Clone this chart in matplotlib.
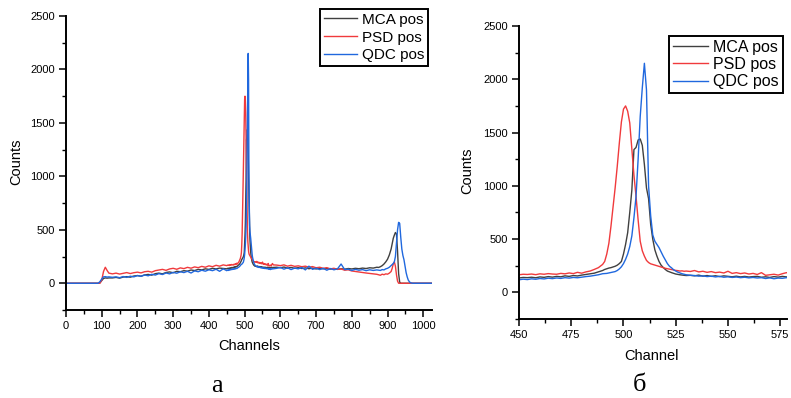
import matplotlib
matplotlib.use("Agg")
import matplotlib.pyplot as plt
from matplotlib.ticker import MultipleLocator

plt.rcParams['font.family'] = ['Liberation Sans', 'DejaVu Sans']

channels = [
    0, 90, 95, 100, 105, 110, 115, 120,
    130, 140, 150, 160, 170, 180, 190, 200, 210, 220,
    230, 240, 250, 260, 270, 280, 290, 300, 310, 320,
    330, 340, 350, 360, 370, 380, 390, 400, 410, 420,
    430, 440,
    450, 452, 454, 456, 458, 460, 462, 464, 466, 468,
    470, 472, 474, 476, 478, 480, 482, 484, 486, 488,
    490,
    491, 492, 493, 494, 495, 496, 497, 498, 499, 500,
    501, 502, 503, 504, 505, 506, 507, 508, 509, 510,
    511, 512, 513, 514, 515, 516, 517, 518, 519, 520,
    521, 522, 523, 524, 525, 526, 527, 528, 529,
    530, 532, 534, 536, 538, 540, 542, 544, 546, 548,
    550, 552, 554, 556, 558, 560, 562, 564, 566, 568,
    570, 572, 574, 576, 578, 580,
    590, 600, 610, 620, 630, 640, 650, 660, 670, 680,
    690, 700, 710, 720, 730, 740, 750, 760, 770, 780,
    790, 800, 810, 820, 830, 840, 850, 860, 870,
    875, 880, 885, 890, 895, 900, 905, 910, 913, 916,
    919, 922, 925, 928, 931, 934, 937, 940, 943, 946,
    949, 952, 955, 958, 961, 964, 970, 980, 1000, 1023,
]

mca_pos = [
    0, 0, 5, 25, 45, 50, 48, 50,
    50, 55, 48, 58, 62, 57, 68, 72, 66, 78,
    83, 76, 90, 95, 88, 101, 106, 98, 112, 108,
    118, 113, 124, 119, 130, 125, 135, 130, 140, 134,
    142, 138,
    135, 140, 138, 142, 137, 145, 141, 148, 143, 150,
    146, 155, 150, 158, 154, 162, 168, 175, 180, 192,
    205,
    215, 222, 228, 232, 238, 245, 255, 270, 290, 360,
    450, 560, 750, 960, 1340, 1360, 1430, 1440, 1380, 1200,
    980, 880, 640, 500, 400, 340, 290, 255, 234, 215,
    200, 192, 185, 178, 172, 168, 165, 162, 160,
    158, 160, 155, 162, 152, 158, 150, 156, 148, 155,
    150, 146, 152, 145, 150, 144, 148, 150, 142, 146,
    140, 148, 143, 150, 145, 148,
    150, 145, 152, 142, 148, 140, 146, 138, 144, 136,
    142, 134, 140, 135, 138, 132, 137, 130, 136, 132,
    138, 134, 140, 136, 142, 138, 145, 142, 150,
    148, 155, 165, 180, 200, 225, 265, 320, 370, 420,
    450, 475, 460, 300, 90, 10, 0, 0, 0, 0,
    0, 0, 0, 0, 0, 0, 0, 0, 0, 0,
]

psd_pos = [
    0, 0, 0, 30, 110, 150, 120, 95,
    88, 95, 86, 93, 100, 91, 99, 104, 97, 108,
    112, 104, 118, 124, 130, 121, 134, 140, 131, 144,
    137, 149, 141, 153, 146, 158, 150, 163, 155, 168,
    160, 172,
    165, 170, 168, 172, 166, 174, 170, 176, 172, 170,
    178, 174, 182, 176, 188, 180, 192, 200, 215, 232,
    262,
    290, 360, 460, 620, 800, 980, 1180, 1400, 1600, 1720,
    1750, 1700, 1590, 1350, 1100, 900, 680, 480, 390, 340,
    300, 280, 268, 262, 255, 250, 244, 238, 232, 226,
    222, 218, 214, 210, 206, 204, 200, 202, 198,
    200, 196, 205, 192, 198, 188, 195, 185, 190, 182,
    198, 178, 185, 176, 182, 172, 178, 168, 185, 160,
    165, 170, 162, 175, 185, 172,
    170, 165, 172, 160, 168, 158, 163, 155, 160, 150,
    156, 145, 150, 140, 146, 135, 140, 130, 134, 122,
    126, 115, 110, 106, 100, 96, 92, 88, 84,
    80, 75, 85, 80, 88, 85, 95, 110, 140, 180,
    200, 160, 80, 20, 0, 0, 0, 0, 0, 0,
    0, 0, 0, 0, 0, 0, 0, 0, 0, 0,
]

qdc_pos = [
    0, 0, 15, 40, 60, 62, 58, 60,
    56, 60, 52, 63, 55, 66, 60, 72, 65, 78,
    70, 84, 77, 90, 82, 96, 88, 102, 94, 108,
    100, 112, 96, 116, 108, 122, 113, 126, 118, 131,
    112, 135,
    118, 124, 120, 127, 123, 130, 126, 133, 129, 135,
    131, 138, 134, 140, 137, 143, 148, 152, 158, 165,
    175,
    176, 178, 182, 185, 190, 195, 205, 220, 240, 270,
    310, 360, 430, 530, 700, 900, 1250, 1650, 1920, 2150,
    1900, 1000, 720, 540, 480, 450, 420, 380, 340, 305,
    270, 245, 230, 212, 200, 190, 182, 175, 170,
    165, 160, 158, 152, 155, 148, 152, 145, 150, 142,
    146, 140, 144, 138, 142, 136, 140, 135, 138, 130,
    136, 128, 134, 132, 138, 135,
    140, 148, 132, 145, 128, 142, 135, 148, 125, 160,
    130, 142, 128, 140, 122, 138, 126, 135, 180, 128,
    132, 120, 130, 122, 128, 118, 126, 120, 125,
    122, 120, 128, 125, 135, 140, 150, 165, 175, 185,
    200, 250, 380, 500, 570, 560, 430, 320, 260, 220,
    160, 100, 60, 30, 15, 5, 0, 0, 0, 0,
]

assert len(channels) == len(mca_pos) == len(psd_pos) == len(qdc_pos)

series_labels = ["MCA pos", "PSD pos", "QDC pos"]
series_data = [mca_pos, psd_pos, qdc_pos]
series_colors = ["#404040", "#F03A3C", "#2068DE"]

W, H = 791, 398
fig = plt.figure(figsize=(W / 100, H / 100), dpi=100)

def px_axes(x0, y0, x1, y1):
    return fig.add_axes([x0 / W, 1 - y1 / H, (x1 - x0) / W, (y1 - y0) / H])

ax1 = px_axes(66, 16, 432.2, 310)
ax2 = px_axes(519, 26, 786.5, 319)

def style(ax, xlim, xmaj, xmin, xlabel, xlab_pos, ylab_pos, leg_anchor,
          leg_fs, leg_sp):
    for lab, d, c in zip(series_labels, series_data, series_colors):
        ax.plot(channels, d, color=c, lw=1.0, label=lab)
    ax.set_xlim(*xlim)
    ax.set_ylim(-250, 2500)
    ax.xaxis.set_major_locator(MultipleLocator(xmaj))
    ax.xaxis.set_minor_locator(MultipleLocator(xmin))
    ax.yaxis.set_major_locator(MultipleLocator(500))
    ax.yaxis.set_minor_locator(MultipleLocator(250))
    for s in ("top", "right"):
        ax.spines[s].set_visible(False)
    for s in ("left", "bottom"):
        ax.spines[s].set_linewidth(1.4)
    ax.tick_params(which="major", direction="out", length=5, width=1.1,
                   labelsize=8, pad=3)
    ax.tick_params(which="minor", direction="out", length=3, width=1.0)
    ax.set_xlabel(xlabel, fontsize=10.5)
    ax.set_ylabel("Counts", fontsize=10.5)
    ax.xaxis.set_label_coords(*xlab_pos)
    ax.yaxis.set_label_coords(*ylab_pos)
    ax.xaxis.label.set_va("center")
    ax.yaxis.label.set_va("center")
    leg = ax.legend(loc="upper left", bbox_to_anchor=leg_anchor,
                    bbox_transform=fig.transFigure, fontsize=leg_fs,
                    frameon=True, fancybox=False, borderpad=0.25,
                    labelspacing=leg_sp, handlelength=2.2, handletextpad=0.3,
                    borderaxespad=0)
    fr = leg.get_frame()
    fr.set_edgecolor("black")
    fr.set_linewidth(1.4)
    fr.set_alpha(1)

style(ax1, (0, 1025), 100, 50, "Channels",
      (0.5006, -0.121), (-0.1365, 0.505), (320 / W, 1 - 9 / H), 11, 0.25)
style(ax2, (450, 578), 25, 12.5, "Channel",
      (0.496, -0.125), (-0.1945, 0.505), (669 / W, 1 - 36 / H), 11.5, 0.13)

fig.text(217 / W, 1 - 386 / H, "а", fontsize=19, family="Liberation Serif",
         ha="center", va="center")
fig.text(640 / W, 1 - 385 / H, "б", fontsize=19, family="Liberation Serif",
         ha="center", va="center")

fig.savefig("out.png", dpi=100)
